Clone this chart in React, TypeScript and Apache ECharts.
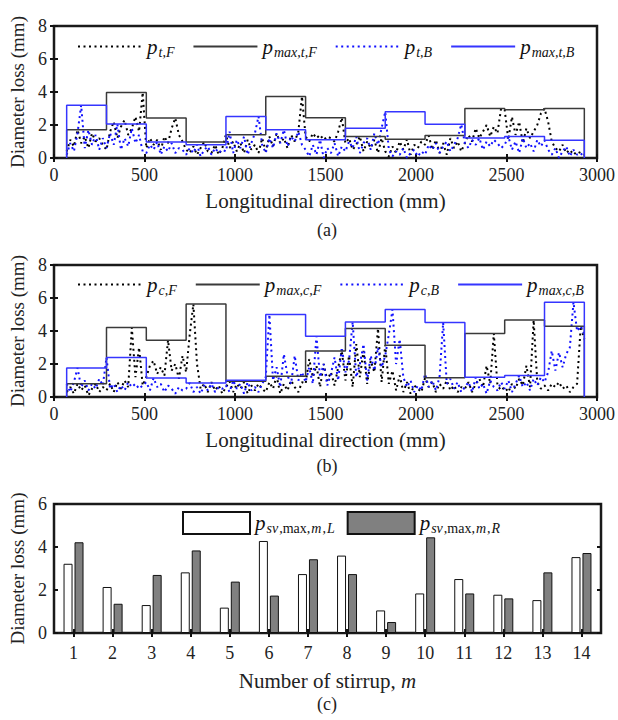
import React, { useEffect, useRef } from "react";
import * as echarts from "echarts";

// ---------- data ----------
const segEdges = [70, 290, 510, 730, 950, 1170, 1390, 1610, 1830, 2050, 2270, 2490, 2710, 2930];
const sampleStart = 70;
const sampleStep = 20;

// (a) maxima per segment
const pMaxTF = [1.71, 3.97, 2.42, 0.97, 1.41, 3.73, 2.44, 1.31, 1.13, 1.37, 3.0, 2.92, 3.0];
const pMaxTB = [3.2, 2.06, 0.97, 0.81, 2.52, 1.71, 1.11, 1.81, 2.8, 2.04, 1.21, 1.31, 1.07];
// (b) maxima per segment
const pMaxCF = [0.81, 4.21, 3.44, 5.63, 0.95, 1.26, 2.79, 4.15, 3.14, 1.17, 3.85, 4.66, 4.29];
const pMaxCB = [1.76, 2.39, 1.15, 0.85, 1.01, 5.0, 3.68, 4.55, 5.3, 4.51, 1.19, 1.3, 5.75];

// (a) sampled pitting depth, every 20 mm from 70 mm
const pTF = [
  0.4, 1.1, 0.7, 1.71, 0.9, 1.3, 0.6, 1.5, 1.0, 1.2, 0.8,
  0.5, 1.6, 2.2, 1.2, 1.9, 2.3, 1.4, 1.8, 2.5, 1.6, 3.97,
  0.6, 1.2, 0.8, 1.1, 0.5, 1.3, 0.9, 1.8, 2.42, 1.4, 1.0,
  0.5, 0.3, 0.7, 0.2, 0.6, 0.97, 0.4, 0.3, 0.8, 0.2, 0.6,
  1.41, 0.6, 1.0, 0.4, 0.9, 0.3, 1.1, 0.5, 0.8, 0.3, 1.2,
  0.4, 1.3, 0.7, 1.5, 0.9, 1.2, 0.6, 1.4, 1.0, 1.6, 3.73,
  1.3, 1.0, 1.5, 1.2, 1.4, 1.1, 1.3, 1.2, 1.0, 1.6, 2.44,
  0.9, 1.2, 0.5, 0.8, 1.31, 0.4, 1.0, 0.6, 1.1, 0.3, 1.2,
  0.4, 0.1, 0.7, 0.3, 1.0, 0.5, 1.13, 0.2, 0.8, 0.6, 1.0,
  0.8, 1.37, 0.5, 1.1, 0.3, 0.9, 0.2, 1.2, 0.6, 1.0, 0.4,
  0.9, 1.4, 1.0, 1.8, 1.2, 1.6, 2.0, 1.3, 1.9, 1.5, 3.0,
  2.92, 1.1, 2.5, 1.4, 2.2, 0.9, 1.8, 1.2, 1.6, 2.0, 2.7,
  3.0, 2.2, 1.0, 0.6, 0.4, 0.8, 0.3, 0.5, 0.2, 0.4, 0.3,
  0.2,
];
const pTB = [
  0.2, 0.9, 0.4, 1.5, 3.2, 0.6, 1.7, 0.8, 1.4, 0.5, 1.2,
  0.6, 1.5, 0.8, 2.06, 0.5, 1.2, 0.7, 1.8, 0.9, 1.4, 0.4,
  0.3, 0.8, 0.5, 0.97, 0.2, 0.7, 0.4, 0.9, 0.3, 0.6, 0.5,
  0.2, 0.6, 0.3, 0.81, 0.1, 0.5, 0.7, 0.2, 0.6, 0.3, 0.5,
  0.4, 1.6, 0.3, 1.1, 0.6, 1.3, 0.2, 0.9, 1.5, 2.52, 0.8,
  0.3, 1.2, 0.6, 1.5, 0.9, 1.71, 0.7, 1.3, 1.0, 1.6, 0.8,
  0.5, 0.1, 0.8, 0.2, 1.11, 0.0, 0.6, 0.3, 0.9, 0.1, 0.7,
  0.4, 1.0, 0.6, 1.3, 0.3, 0.9, 1.2, 0.5, 1.5, 0.8, 1.81,
  2.8, 0.5, 0.1, 0.4, 0.2, 0.6, 0.0, 0.3, 0.5, 0.1, 0.4,
  0.2, 0.8, 0.5, 0.9, 0.3, 0.7, 1.0, 0.4, 0.8, 1.2, 2.04,
  0.9, 0.6, 1.1, 0.8, 1.21, 0.5, 1.0, 0.7, 1.1, 0.9, 0.6,
  0.8, 1.31, 0.5, 1.0, 0.3, 1.2, 0.6, 0.9, 0.4, 1.1, 0.7,
  1.07, 0.5, 0.2, 0.6, 0.0, 0.4, 0.7, 0.1, 0.5, 0.2, 0.3,
  0.0,
];
// (b)
const pCF = [
  0.3, 0.6, 0.2, 0.81, 0.4, 0.7, 0.1, 0.5, 0.8, 0.3, 0.6,
  0.4, 0.8, 0.3, 0.9, 0.5, 1.0, 0.6, 4.21, 1.2, 3.0, 0.7,
  1.2, 1.9, 2.2, 1.4, 1.8, 1.3, 3.44, 1.6, 2.0, 1.1, 2.5,
  1.5, 3.8, 5.63, 2.0, 0.5, 0.8, 0.3, 0.9, 0.4, 0.7, 0.2,
  0.6, 0.95, 0.3, 0.8, 0.5, 0.9, 0.2, 0.7, 0.4, 0.8, 0.5,
  0.3, 0.9, 0.5, 1.26, 0.2, 0.8, 0.4, 1.0, 0.6, 0.3, 0.9,
  0.8, 2.3, 1.2, 1.9, 0.6, 2.0, 1.0, 1.5, 0.7, 1.8, 2.79,
  1.0, 2.5, 0.6, 3.2, 1.2, 2.8, 0.8, 2.2, 1.5, 4.15, 0.9,
  3.14, 0.8, 1.6, 0.4, 1.3, 0.3, 0.9, 0.2, 0.7, 0.5, 0.3,
  1.17, 0.6, 0.9, 0.3, 0.8, 0.5, 1.0, 0.4, 0.7, 0.3, 0.6,
  0.5, 0.9, 0.3, 0.8, 1.1, 0.6, 1.9, 0.8, 3.85, 0.7, 0.4,
  0.6, 0.3, 0.8, 0.5, 1.1, 0.7, 1.9, 0.6, 4.66, 0.9, 0.5,
  0.7, 0.4, 0.8, 0.6, 0.9, 0.5, 0.7, 0.3, 0.6, 0.8, 4.29,
  3.5,
];
const pCB = [
  0.8, 0.3, 0.9, 1.76, 0.6, 1.0, 0.4, 0.8, 0.5, 1.1, 0.7,
  2.39, 0.5, 0.8, 0.3, 0.7, 0.4, 0.9, 0.6, 0.8, 0.5, 0.7,
  0.9, 0.4, 1.15, 0.6, 0.8, 0.3, 0.7, 0.5, 0.2, 0.6, 0.4,
  0.5, 0.85, 0.3, 0.6, 0.2, 0.7, 0.4, 0.8, 0.3, 0.6, 0.5,
  0.7, 0.3, 1.01, 0.5, 0.8, 0.2, 0.9, 0.4, 0.6, 0.3, 0.8,
  1.2, 5.0, 1.0, 1.8, 0.6, 2.6, 1.3, 0.8, 2.5, 1.0, 1.5,
  0.9, 1.8, 0.8, 3.68, 1.2, 2.0, 0.7, 1.4, 2.4, 1.0, 3.0,
  1.5, 2.2, 4.55, 1.2, 2.0, 3.2, 1.0, 2.5, 1.6, 3.0, 1.8,
  2.5, 3.8, 5.3, 2.0, 3.5, 1.2, 0.6, 1.0, 0.3, 0.7, 0.4,
  1.4, 0.6, 1.0, 0.4, 1.2, 4.51, 0.8, 1.1, 0.5, 0.9, 0.3,
  0.6, 0.9, 0.3, 1.19, 0.5, 0.8, 0.2, 1.0, 0.6, 0.4, 0.9,
  0.5, 1.0, 0.3, 0.8, 1.3, 0.6, 0.9, 0.4, 1.1, 0.7, 1.2,
  0.9, 1.5, 2.8, 1.6, 2.7, 1.8, 2.6, 3.0, 5.75, 4.0, 4.3,
  3.8,
];

// (c)
const stirrups = ["1", "2", "3", "4", "5", "6", "7", "8", "9", "10", "11", "12", "13", "14"];
const barL = [3.22, 2.14, 1.3, 2.82, 1.18, 4.28, 2.74, 3.6, 1.05, 1.84, 2.51, 1.78, 1.53, 3.53];
const barR = [4.22, 1.36, 2.7, 3.84, 2.39, 1.74, 3.43, 2.74, 0.51, 4.45, 1.84, 1.61, 2.82, 3.72];

const xTicksMin = 0, xTicksMax = 3000, xTicksInterval = 500;

// ---------- helpers ----------
const FONT = "Liberation Serif";
const BLACK = "#111";
const STEP_BLACK = "#3a3a3a";
const BLUE_DOT = "#1010ff";
const BLUE_STEP = "#3535ff";

function sampled(vals: number[]) {
  return vals.map((v, i) => [sampleStart + i * sampleStep, v]);
}
function stepData(vals: number[]) {
  const last = segEdges[segEdges.length - 1];
  const d: number[][] = [[segEdges[0], 0]];
  vals.forEach((v, i) => d.push([segEdges[i], v]));
  d.push([last, vals[vals.length - 1]]);
  d.push([last, 0]);
  return d;
}

const subPad = [11, 0, 0, 1];
const legendRich = {
  p: { fontFamily: FONT, fontStyle: "italic", fontSize: 21, color: BLACK },
  s: { fontFamily: FONT, fontStyle: "italic", fontSize: 14, color: BLACK, padding: subPad },
  r: { fontFamily: FONT, fontSize: 14, color: BLACK, padding: subPad },
};
const legendText: Record<string, string> = {
  ptF: "{p|p}{s|t,F}",
  pmaxtF: "{p|p}{s|max,t,F}",
  ptB: "{p|p}{s|t,B}",
  pmaxtB: "{p|p}{s|max,t,B}",
  pcF: "{p|p}{s|c,F}",
  pmaxcF: "{p|p}{s|max,c,F}",
  pcB: "{p|p}{s|c,B}",
  pmaxcB: "{p|p}{s|max,c,B}",
  L: "{p|p}{s|sv}{r|,max,}{s|m}{r|,}{s|L}",
  R: "{p|p}{s|sv}{r|,max,}{s|m}{r|,}{s|R}",
};

const tickStyle = { show: true, inside: true, length: 4, lineStyle: { color: BLACK, width: 2 } };
const labelStyle = { fontFamily: FONT, fontSize: 18, color: "#222", formatter: (v: any) => String(v) };
const nameStyle = { fontFamily: FONT, fontSize: 20, color: "#222" };

function valueXAxes(gi: number) {
  return [
    {
      type: "value", gridIndex: gi, min: xTicksMin, max: xTicksMax, interval: xTicksInterval,
      axisLine: { show: false }, axisTick: tickStyle, splitLine: { show: false },
      axisLabel: { ...labelStyle, margin: 8 },
      name: "Longitudinal direction (mm)", nameLocation: "middle", nameGap: 32,
      nameTextStyle: { ...nameStyle, fontSize: 21 },
    },
    {
      type: "value", gridIndex: gi, position: "top", min: xTicksMin, max: xTicksMax, interval: xTicksInterval,
      axisLine: { show: false }, axisTick: tickStyle, splitLine: { show: false }, axisLabel: { show: false },
    },
  ];
}
function valueYAxes(gi: number, max: number) {
  return [
    {
      type: "value", gridIndex: gi, min: 0, max, interval: 2,
      axisLine: { show: false }, axisTick: tickStyle, splitLine: { show: false },
      axisLabel: { ...labelStyle, margin: 7 },
      name: "Diameter loss (mm)", nameLocation: "middle", nameGap: 25, nameTextStyle: { ...nameStyle, fontSize: 19 },
    },
    {
      type: "value", gridIndex: gi, position: "right", min: 0, max, interval: 2,
      axisLine: { show: false }, axisTick: tickStyle, splitLine: { show: false }, axisLabel: { show: false },
    },
  ];
}

function lineSeries(name: string, data: number[][], axis: number, color: string, dotted: boolean, step: boolean) {
  return {
    type: "line", name, data, xAxisIndex: axis, yAxisIndex: axis,
    symbol: "none", showSymbol: false, step: step ? "end" : false, z: step ? 3 : 2,
    lineStyle: dotted
      ? { color, width: 2, type: [2, 3.5], cap: "butt" }
      : { color, width: 1.5, type: "solid" },
    itemStyle: { color },
    emphasis: { disabled: true },
  };
}

function lineLegend(names: string[], top: number) {
  return {
    data: names, left: 72, top, itemWidth: 64, itemHeight: 14, itemGap: 18,
    selectedMode: false,
    itemStyle: { color: "rgba(0,0,0,0)", borderColor: "rgba(0,0,0,0)", borderWidth: 0, opacity: 0 },
    formatter: (n: string) => legendText[n],
    textStyle: { rich: legendRich },
  };
}

const gridBase = { left: 54, right: 17, show: true, borderColor: "#1a1a1a", borderWidth: 2.5 };

export default function App() {
  const ref = useRef<HTMLDivElement>(null);
  useEffect(() => {
    document.body.style.margin = "0";
    const chart = echarts.init(ref.current!, null, { renderer: "svg" });
    const option = {
      animation: false,
      backgroundColor: "#fff",
      textStyle: { fontFamily: FONT },
      grid: [
        { ...gridBase, top: 26, height: 132 },
        { ...gridBase, top: 265, height: 132 },
        { ...gridBase, top: 504, height: 129 },
      ],
      xAxis: [
        ...valueXAxes(0),
        ...valueXAxes(1),
        {
          type: "category", gridIndex: 2, data: stirrups, boundaryGap: true,
          axisLine: { show: false }, axisTick: { ...tickStyle, alignWithLabel: true }, splitLine: { show: false },
          axisLabel: { ...labelStyle, margin: 11 },
          name: "Number of stirrup, {i|m}", nameLocation: "middle", nameGap: 37,
          nameTextStyle: { ...nameStyle, fontSize: 21, rich: { i: { fontFamily: FONT, fontSize: 21, fontStyle: "italic", color: "#222" } } },
        },
        {
          type: "category", gridIndex: 2, position: "top", data: stirrups, boundaryGap: true,
          axisLine: { show: false }, axisTick: { ...tickStyle, alignWithLabel: true }, splitLine: { show: false },
          axisLabel: { show: false },
        },
      ],
      yAxis: [...valueYAxes(0, 8), ...valueYAxes(1, 8), ...valueYAxes(2, 6)],
      legend: [
        lineLegend(["ptF", "pmaxtF", "ptB", "pmaxtB"], 31),
        lineLegend(["pcF", "pmaxcF", "pcB", "pmaxcB"], 269),
        {
          data: ["L", "R"], left: 177, top: 506, itemWidth: 67, itemHeight: 22, itemGap: 12,
          icon: "rect", selectedMode: false,
          formatter: (n: string) => legendText[n],
          textStyle: { rich: legendRich },
        },
      ],
      graphic: [
        { type: "text", x: 327, y: 230, style: { text: "(a)", font: `18px ${FONT}`, fill: "#222", align: "center", verticalAlign: "middle" } },
        { type: "text", x: 327, y: 466, style: { text: "(b)", font: `18px ${FONT}`, fill: "#222", align: "center", verticalAlign: "middle" } },
        { type: "text", x: 327, y: 704, style: { text: "(c)", font: `18px ${FONT}`, fill: "#222", align: "center", verticalAlign: "middle" } },
      ],
      series: [
        lineSeries("ptF", sampled(pTF), 0, "#000", true, false),
        lineSeries("pmaxtF", stepData(pMaxTF), 0, STEP_BLACK, false, true),
        lineSeries("ptB", sampled(pTB), 0, BLUE_DOT, true, false),
        lineSeries("pmaxtB", stepData(pMaxTB), 0, BLUE_STEP, false, true),
        lineSeries("pcF", sampled(pCF), 2, "#000", true, false),
        lineSeries("pmaxcF", stepData(pMaxCF), 2, STEP_BLACK, false, true),
        lineSeries("pcB", sampled(pCB), 2, BLUE_DOT, true, false),
        lineSeries("pmaxcB", stepData(pMaxCB), 2, BLUE_STEP, false, true),
        {
          type: "bar", name: "L", xAxisIndex: 4, yAxisIndex: 4, data: barL,
          barWidth: 9, barGap: "22%",
          itemStyle: { color: "#ffffff", borderColor: "#111", borderWidth: 1 },
          emphasis: { disabled: true },
        },
        {
          type: "bar", name: "R", xAxisIndex: 4, yAxisIndex: 4, data: barR,
          barWidth: 9, barGap: "22%",
          itemStyle: { color: "#808080", borderColor: "#111", borderWidth: 1 },
          emphasis: { disabled: true },
        },
      ],
    };
    chart.setOption(option as any);
    return () => chart.dispose();
  }, []);
  return <div ref={ref} style={{ width: 618, height: 720 }} />;
}
